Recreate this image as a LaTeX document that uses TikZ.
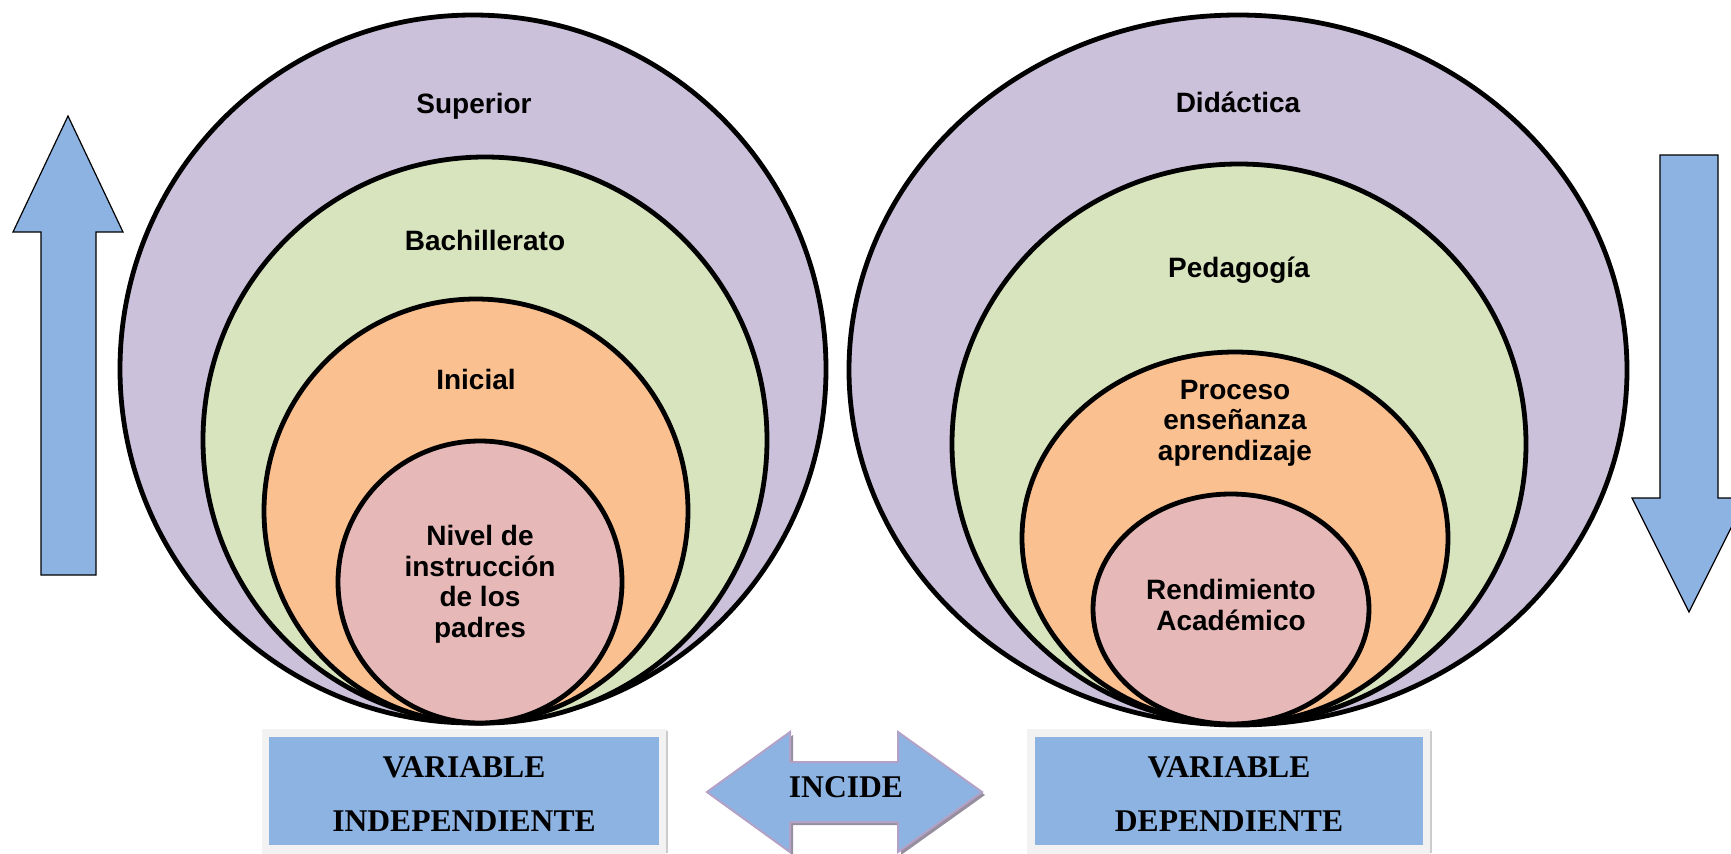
\documentclass[tikz,border=0pt]{standalone}
\usepackage{fontspec}
\newfontfamily\arialfont{Liberation Sans}
\newfontfamily\timesfont{Liberation Serif}
\usepackage{xcolor}
\definecolor{lila}{HTML}{CCC1DA}
\definecolor{verde}{HTML}{D7E4BD}
\definecolor{naranja}{HTML}{FAC090}
\definecolor{rosa}{HTML}{E6B9B8}
\definecolor{azul}{HTML}{8DB3E2}
\definecolor{borde}{HTML}{B3A2C7}
\definecolor{marco}{HTML}{F2F2F2}

\begin{document}
\begin{tikzpicture}[x=0.5pt,y=-0.5pt]
    \tikzstyle{ring}=[draw=black,line width=2.4pt]
    \tikzstyle{lbl}=[font=\arialfont\bfseries\fontsize{14}{15.25}\selectfont,align=center,anchor=base,inner sep=0pt]
    \tikzstyle{var}=[font=\timesfont\bfseries\fontsize{15.8}{27}\selectfont,anchor=base,inner sep=0pt]
    \tikzstyle{flecha}=[fill=azul,draw=black,line width=0.6pt]
    \clip (0,0) rectangle (1731,853);
    \fill[white] (0,0) rectangle (1731,853);

    \draw[ring,fill=lila] (473,369) ellipse [x radius=353,y radius=354];
    \draw[ring,fill=verde] (485,440) ellipse [x radius=282,y radius=283];
    \draw[ring,fill=naranja] (476,511) ellipse [x radius=212,y radius=212];
    \draw[ring,fill=rosa] (480,582) ellipse [x radius=142,y radius=141];
    \node[lbl] (sup) at (474,113) {Superior};
    \node[lbl] (bach) at (485,250) {Bachillerato};
    \node[lbl] (ini) at (476,389) {Inicial};
    \node[lbl] (niv) at (480,637) {Nivel de\\instrucción\\de los\\padres};

    \draw[ring,fill=lila] (1238,370) ellipse [x radius=389,y radius=355];
    \draw[ring,fill=verde] (1239,444) ellipse [x radius=287,y radius=280];
    \draw[ring,fill=naranja] (1235,538) ellipse [x radius=213,y radius=186];
    \draw[ring,fill=rosa] (1231,609) ellipse [x radius=138,y radius=115];
    \node[lbl] (did) at (1238,112) {Didáctica};
    \node[lbl] (ped) at (1239,277) {Pedagogía};
    \node[lbl] (proc) at (1235,460) {Proceso\\enseñanza\\aprendizaje};
    \node[lbl] (rend) at (1231,630) {Rendimiento\\Académico};

    \draw[flecha] (68,116) -- (123,232) -- (96,232) -- (96,575) -- (41,575) -- (41,232) -- (13,232) -- cycle;
    \draw[flecha] (1660,155) -- (1718,155) -- (1718,498) -- (1746,498) -- (1689,612) -- (1632,498) -- (1660,498) -- cycle;

    \fill[marco] (262,729) rectangle (667,860);
    \draw[gray!40,line width=1pt] (667,731) -- (667,853);
    \fill[azul] (269,737) rectangle (659,845);
    \node[var] (vind1) at (464,777) {VARIABLE};
    \node[var] (vind2) at (464,831) {INDEPENDIENTE};

    \fill[marco] (1027,729) rectangle (1431,860);
    \draw[gray!40,line width=1pt] (1431,731) -- (1431,853);
    \fill[azul] (1035,737) rectangle (1423,845);
    \node[var] (vdep1) at (1229,777) {VARIABLE};
    \node[var] (vdep2) at (1229,831) {DEPENDIENTE};

    \fill[gray!55!borde,shift={(3,3)}] (707,792) -- (790,732) -- (790,762) -- (898,762) -- (898,732) -- (982,792) -- (898,852) -- (898,822) -- (790,822) -- (790,852) -- cycle;
    \draw[fill=azul,draw=borde,line width=1pt] (707,792) -- (790,732) -- (790,762) -- (898,762) -- (898,732) -- (982,792) -- (898,852) -- (898,822) -- (790,822) -- (790,852) -- cycle;
    \node[var] (incide) at (846,797) {INCIDE};
\end{tikzpicture}
\end{document}
